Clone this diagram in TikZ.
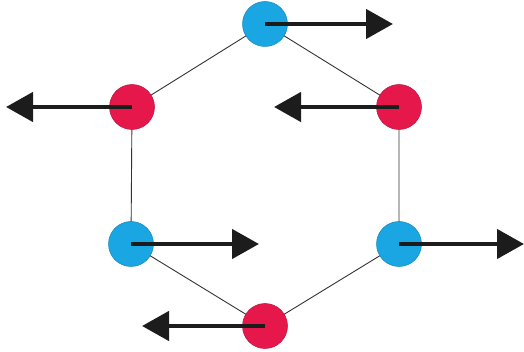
\documentclass[tikz,border=0pt]{standalone}
\usetikzlibrary{arrows.meta}
\definecolor{ionblue}{HTML}{1AA6E2}
\definecolor{ionred}{HTML}{E6174B}
\definecolor{arrowink}{HTML}{1C1C1C}
\tikzset{
  bond/.style={draw=black!80, line width=0.9pt},
  atom/.style={circle, minimum size=45pt, inner sep=0pt, line width=0.5pt},
  blueatom/.style={atom, fill=ionblue, draw=ionblue!80!black},
  redatom/.style={atom, fill=ionred, draw=ionred!80!black},
  moment/.style={draw=arrowink, line width=4.5pt,
    -{Triangle[length=27pt, width=29pt]}}
}
\begin{document}
\begin{tikzpicture}[x=1pt, y=-1pt]
  \useasboundingbox (0,0) rectangle (524,352);
  % lattice sites
  \coordinate (t)  at (265,24);
  \coordinate (ul) at (132,107);
  \coordinate (ur) at (399,107);
  \coordinate (ll) at (131,244);
  \coordinate (lr) at (399,244);
  \coordinate (b)  at (265,326);
  % arrow tips, level with their sites
  \coordinate (tT)  at (393,24);
  \coordinate (ulT) at (6,107);
  \coordinate (urT) at (274,107);
  \coordinate (llT) at (259,244);
  \coordinate (lrT) at (524,244);
  \coordinate (bT)  at (142,326);
  % hexagon bonds
  \draw[bond] (t) -- (ur) -- (lr) -- (b) -- (ll) -- (ul) -- cycle;
  % ions
  \node[blueatom] (nt)  at (t)  {};
  \node[redatom]  (nul) at (ul) {};
  \node[redatom]  (nur) at (ur) {};
  \node[blueatom] (nll) at (ll) {};
  \node[blueatom] (nlr) at (lr) {};
  \node[redatom]  (nb)  at (b)  {};
  % spin moments
  \draw[moment] (nt.center)  -- (tT);
  \draw[moment] (nul.center) -- (ulT);
  \draw[moment] (nur.center) -- (urT);
  \draw[moment] (nll.center) -- (llT);
  \draw[moment] (nlr.center) -- (lrT);
  \draw[moment] (nb.center)  -- (bT);
\end{tikzpicture}
\end{document}
